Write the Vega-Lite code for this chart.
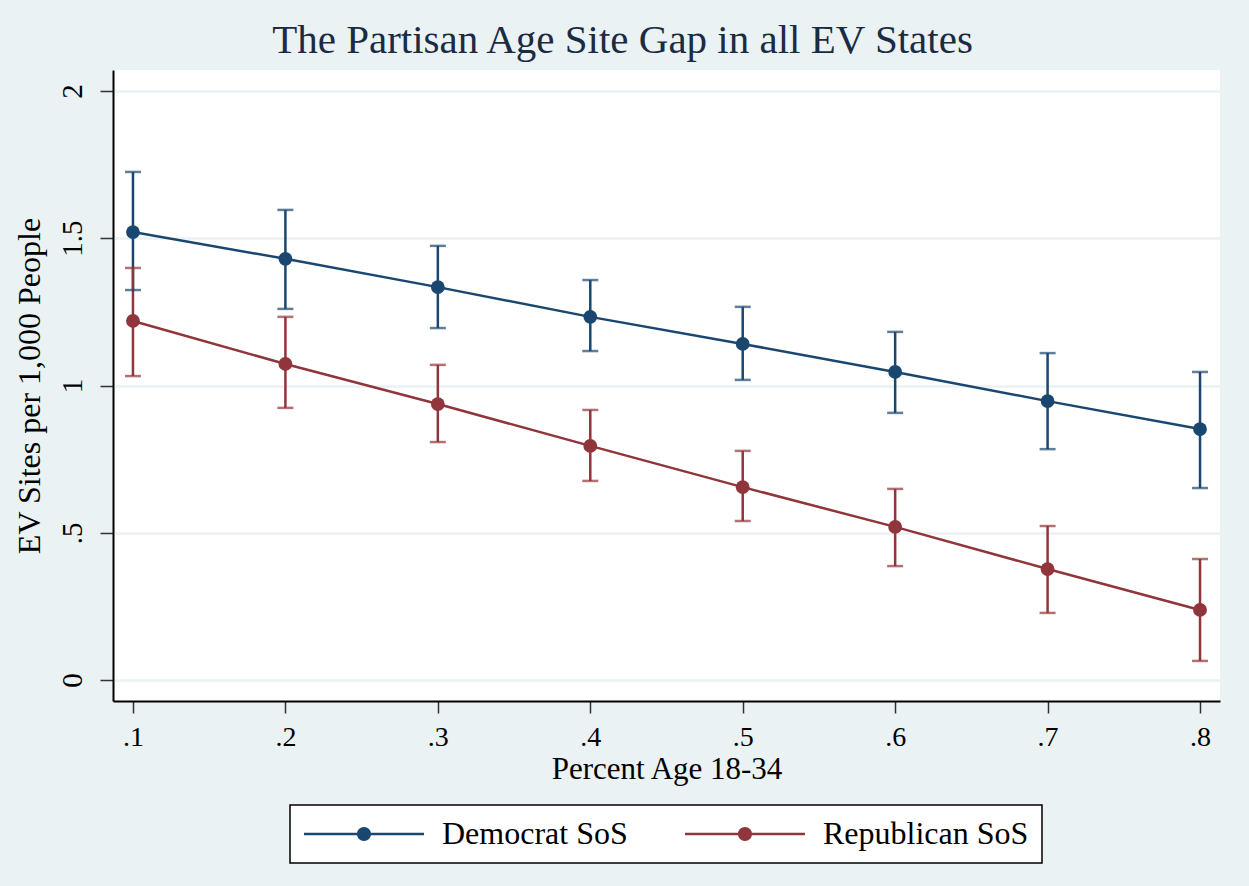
{
  "$schema": "https://vega.github.io/schema/vega-lite/v6.json",
  "width": 1107,
  "height": 631,
  "autosize": {"type": "none"},
  "padding": {"left": 113, "top": 70, "right": 29, "bottom": 185},
  "background": "#eaf2f3",
  "title": {
    "text": "The Partisan Age Site Gap in all EV States",
    "font": "Liberation Serif",
    "fontSize": 41,
    "fontWeight": "normal",
    "color": "#1c2b44",
    "anchor": "middle",
    "frame": "group",
    "dx": -44,
    "offset": 8
  },
  "config": {
    "view": {"fill": "white", "stroke": null},
    "font": "Liberation Serif",
    "legend": {"strokeWidth": 1.5},
    "axis": {
      "labelFont": "Liberation Serif",
      "titleFont": "Liberation Serif",
      "labelColor": "#000000",
      "titleColor": "#000000",
      "titleFontWeight": "normal",
      "domainColor": "#000000",
      "domainWidth": 2,
      "tickColor": "#333333",
      "tickWidth": 1.5
    }
  },
  "data": {
    "values": [
      {"x": 0.1, "party": "Democrat SoS", "y": 1.521, "lo": 1.324, "hi": 1.725},
      {"x": 0.2, "party": "Democrat SoS", "y": 1.43, "lo": 1.26, "hi": 1.596},
      {"x": 0.3, "party": "Democrat SoS", "y": 1.334, "lo": 1.195, "hi": 1.474},
      {"x": 0.4, "party": "Democrat SoS", "y": 1.233, "lo": 1.117, "hi": 1.358},
      {"x": 0.5, "party": "Democrat SoS", "y": 1.141, "lo": 1.019, "hi": 1.267},
      {"x": 0.6, "party": "Democrat SoS", "y": 1.046, "lo": 0.907, "hi": 1.182},
      {"x": 0.7, "party": "Democrat SoS", "y": 0.947, "lo": 0.784, "hi": 1.11},
      {"x": 0.8, "party": "Democrat SoS", "y": 0.852, "lo": 0.652, "hi": 1.046},
      {"x": 0.1, "party": "Republican SoS", "y": 1.219, "lo": 1.032, "hi": 1.399},
      {"x": 0.2, "party": "Republican SoS", "y": 1.073, "lo": 0.924, "hi": 1.233},
      {"x": 0.3, "party": "Republican SoS", "y": 0.937, "lo": 0.808, "hi": 1.07},
      {"x": 0.4, "party": "Republican SoS", "y": 0.795, "lo": 0.676, "hi": 0.917},
      {"x": 0.5, "party": "Republican SoS", "y": 0.655, "lo": 0.54, "hi": 0.778},
      {"x": 0.6, "party": "Republican SoS", "y": 0.52, "lo": 0.387, "hi": 0.649},
      {"x": 0.7, "party": "Republican SoS", "y": 0.377, "lo": 0.228, "hi": 0.523},
      {"x": 0.8, "party": "Republican SoS", "y": 0.238, "lo": 0.065, "hi": 0.411}
    ]
  },
  "encoding": {
    "x": {
      "field": "x",
      "type": "quantitative",
      "scale": {"domain": [0.0869, 0.8131], "nice": false, "zero": false},
      "axis": {
        "title": "Percent Age 18-34",
        "titleFontSize": 31,
        "titlePadding": 3,
        "labelFontSize": 28,
        "labelPadding": 10,
        "tickSize": 12,
        "values": [0.1, 0.2, 0.3, 0.4, 0.5, 0.6, 0.7, 0.8],
        "labelExpr": "slice(format(datum.value, '.1f'), 1)",
        "grid": false
      }
    },
    "y": {
      "field": "y",
      "type": "quantitative",
      "scale": {"domain": [-0.071, 2.071], "nice": false, "zero": false},
      "axis": {
        "title": "EV Sites per 1,000 People",
        "titleFontSize": 32,
        "titlePadding": 12,
        "labelFontSize": 29,
        "labelAngle": 270,
        "labelAlign": "center",
        "labelBaseline": "bottom",
        "labelPadding": 13,
        "tickSize": 13,
        "values": [0, 0.5, 1, 1.5, 2],
        "labelExpr": "datum.value > 0 && datum.value < 1 ? slice(format(datum.value, '.1f'), 1) : format(datum.value, '~g')",
        "grid": true,
        "gridColor": "#eaf2f3",
        "gridWidth": 2.5
      }
    },
    "color": {
      "field": "party",
      "type": "nominal",
      "scale": {"domain": ["Democrat SoS", "Republican SoS"], "range": ["#1a476f", "#90353b"]},
      "legend": {
        "title": null,
        "orient": "none",
        "legendX": 177,
        "legendY": 735,
        "direction": "horizontal",
        "columns": 2,
        "fillColor": "white",
        "strokeColor": "#000000",
        "padding": 13,
        "columnPadding": 56,
        "labelFont": "Liberation Serif",
        "labelFontSize": 32,
        "labelColor": "#000000",
        "labelOffset": 107,
        "labelLimit": 400,
        "symbolType": "M-1,-0.087H7V0.087H-1Z M3,-0.467A0.467,0.467 0 1,1 3,0.467A0.467,0.467 0 1,1 3,-0.467Z",
        "symbolSize": 900,
        "symbolStrokeWidth": 0,
        "symbolOpacity": 1
      }
    }
  },
  "layer": [
    {
      "mark": {"type": "rule", "strokeWidth": 2.5},
      "encoding": {"y": {"field": "lo", "type": "quantitative"}, "y2": {"field": "hi"}}
    },
    {
      "mark": {"type": "tick", "orient": "horizontal", "size": 16, "thickness": 2.5},
      "encoding": {"y": {"field": "lo", "type": "quantitative"}}
    },
    {
      "mark": {"type": "tick", "orient": "horizontal", "size": 16, "thickness": 2.5},
      "encoding": {"y": {"field": "hi", "type": "quantitative"}}
    },
    {
      "mark": {"type": "line", "strokeWidth": 2.5},
      "encoding": {}
    },
    {
      "mark": {"type": "point", "filled": true, "size": 190, "opacity": 1},
      "encoding": {}
    }
  ]
}
